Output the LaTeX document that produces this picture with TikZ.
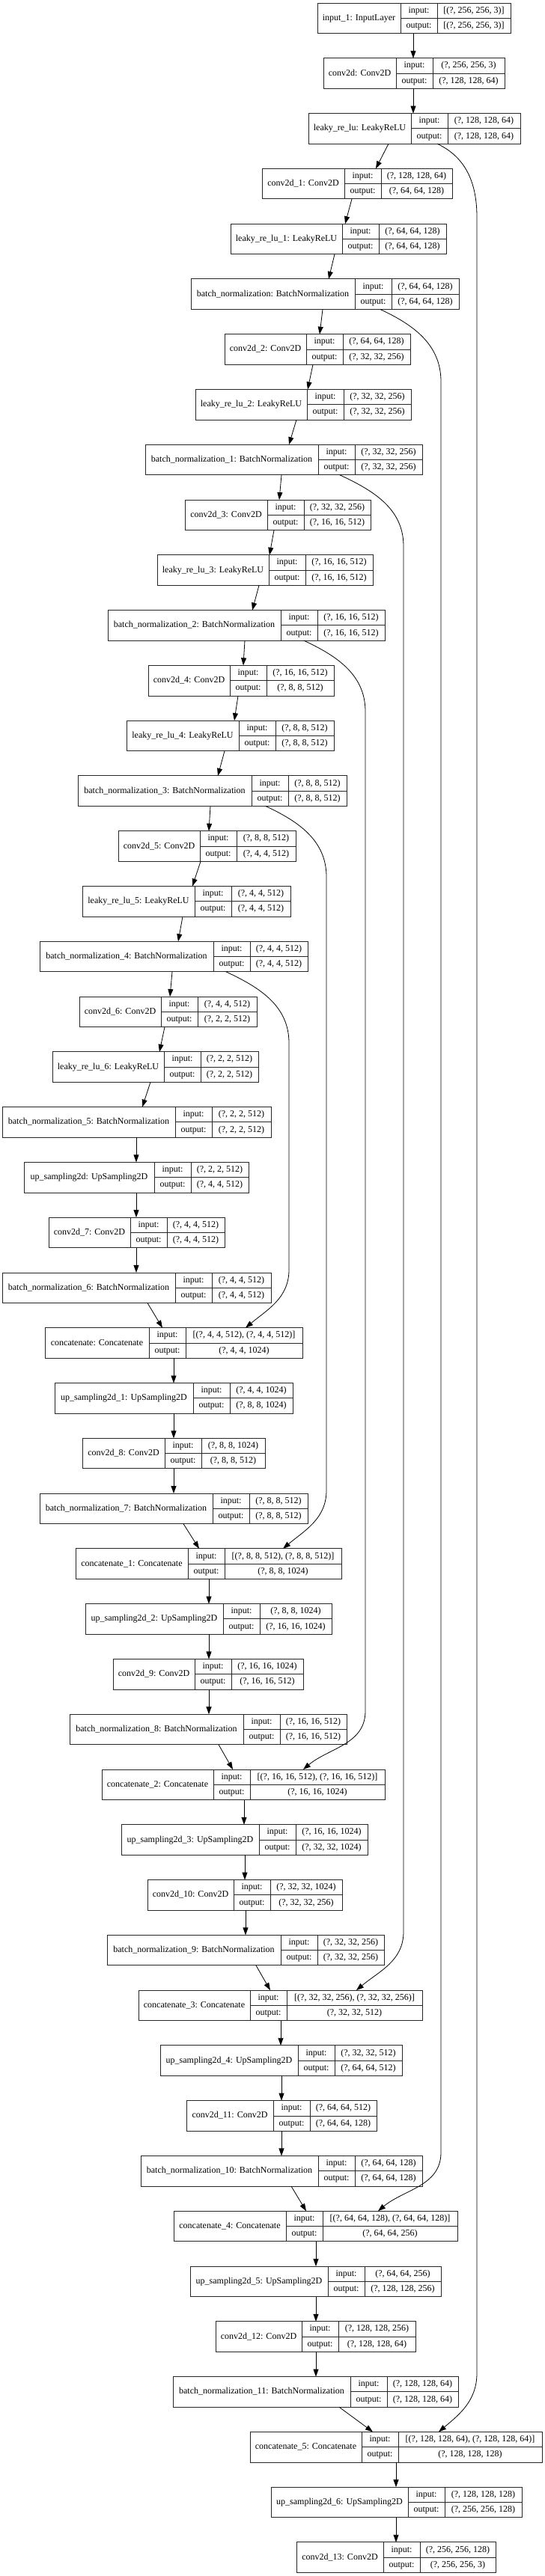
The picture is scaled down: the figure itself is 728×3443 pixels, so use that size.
\documentclass[tikz,border=0pt]{standalone}
\usepackage{fontspec}
\setmainfont{Liberation Serif}
\usetikzlibrary{arrows.meta}
\tikzset{
  lbox/.style={draw=black!85, line width=0.9pt, inner sep=0pt, outer sep=0pt, anchor=north west, minimum height=40.6pt},
  sepline/.style={draw=black!85, line width=0.9pt},
  txt/.style={font=\fontsize{12}{14}\selectfont, inner sep=0pt, text height=8.5pt, text depth=2.5pt},
  arr/.style={line width=0.8pt, -{Triangle[length=10pt,width=7pt]}},
}
% #1 node name, #2 row index, #3 left x, #4 first divider x, #5 right x, #6 label, #7 input, #8 output
\newcommand\klayer[8]{%
  \pgfmathsetmacro\kyt{-(4+73.78*#2)}%
  \pgfmathsetmacro\kyb{\kyt-40.6}%
  \pgfmathsetmacro\kym{\kyt-20.3}%
  \pgfmathsetmacro\kyi{\kyt-10.15}%
  \pgfmathsetmacro\kyo{\kyt-30.45}%
  \pgfmathsetmacro\kw{#5-#3}%
  \pgfmathsetmacro\kdd{#4+49}%
  \pgfmathsetmacro\kxa{(#3+#4)/2}%
  \pgfmathsetmacro\kxb{#4+24.5}%
  \pgfmathsetmacro\kxc{(\kdd+#5)/2}%
  \node[lbox, minimum width=\kw pt] (#1) at (#3,\kyt) {};
  \draw[sepline] (#4,\kyt) -- (#4,\kyb) (\kdd,\kyt) -- (\kdd,\kyb) (#4,\kym) -- (#5,\kym);
  \node[txt] (#1-name) at (\kxa,\kym) {#6};
  \node[txt] (#1-il) at (\kxb,\kyi) {input:};
  \node[txt] (#1-ol) at (\kxb,\kyo) {output:};
  \node[txt] (#1-iv) at (\kxc,\kyi) {#7};
  \node[txt] (#1-ov) at (\kxc,\kyo) {#8};
}
\begin{document}
\begin{tikzpicture}[x=1pt,y=1pt]
\useasboundingbox[fill=white] (0,0) rectangle (728,-3443);

\klayer{L0}{0}{424}{535}{682}{input\_1: InputLayer}{[(?, 256, 256, 3)]}{[(?, 256, 256, 3)]}
\klayer{L1}{1}{432}{529}{674}{conv2d: Conv2D}{(?, 256, 256, 3)}{(?, 128, 128, 64)}
\klayer{L2}{2}{412}{549}{695}{leaky\_re\_lu: LeakyReLU}{(?, 128, 128, 64)}{(?, 128, 128, 64)}
\klayer{L3}{3}{350}{460}{604}{conv2d\_1: Conv2D}{(?, 128, 128, 64)}{(?, 64, 64, 128)}
\klayer{L4}{4}{308}{457}{596}{leaky\_re\_lu\_1: LeakyReLU}{(?, 64, 64, 128)}{(?, 64, 64, 128)}
\klayer{L5}{5}{255}{474}{613}{batch\_normalization: BatchNormalization}{(?, 64, 64, 128)}{(?, 64, 64, 128)}
\klayer{L6}{6}{300}{409}{548}{conv2d\_2: Conv2D}{(?, 64, 64, 128)}{(?, 32, 32, 256)}
\klayer{L7}{7}{261}{410}{549}{leaky\_re\_lu\_2: LeakyReLU}{(?, 32, 32, 256)}{(?, 32, 32, 256)}
\klayer{L8}{8}{194}{425}{564}{batch\_normalization\_1: BatchNormalization}{(?, 32, 32, 256)}{(?, 32, 32, 256)}
\klayer{L9}{9}{247}{357}{495}{conv2d\_3: Conv2D}{(?, 32, 32, 256)}{(?, 16, 16, 512)}
\klayer{L10}{10}{210}{359}{498}{leaky\_re\_lu\_3: LeakyReLU}{(?, 16, 16, 512)}{(?, 16, 16, 512)}
\klayer{L11}{11}{144}{375}{514}{batch\_normalization\_2: BatchNormalization}{(?, 16, 16, 512)}{(?, 16, 16, 512)}
\klayer{L12}{12}{198}{307}{446}{conv2d\_4: Conv2D}{(?, 16, 16, 512)}{(?, 8, 8, 512)}
\klayer{L13}{13}{169}{319}{446}{leaky\_re\_lu\_4: LeakyReLU}{(?, 8, 8, 512)}{(?, 8, 8, 512)}
\klayer{L14}{14}{104}{336}{463}{batch\_normalization\_3: BatchNormalization}{(?, 8, 8, 512)}{(?, 8, 8, 512)}
\klayer{L15}{15}{158}{267}{395}{conv2d\_5: Conv2D}{(?, 8, 8, 512)}{(?, 4, 4, 512)}
\klayer{L16}{16}{110}{260}{388}{leaky\_re\_lu\_5: LeakyReLU}{(?, 4, 4, 512)}{(?, 4, 4, 512)}
\klayer{L17}{17}{53}{285}{411}{batch\_normalization\_4: BatchNormalization}{(?, 4, 4, 512)}{(?, 4, 4, 512)}
\klayer{L18}{18}{106}{215}{343}{conv2d\_6: Conv2D}{(?, 4, 4, 512)}{(?, 2, 2, 512)}
\klayer{L19}{19}{70}{219}{345}{leaky\_re\_lu\_6: LeakyReLU}{(?, 2, 2, 512)}{(?, 2, 2, 512)}
\klayer{L20}{20}{3}{234}{362}{batch\_normalization\_5: BatchNormalization}{(?, 2, 2, 512)}{(?, 2, 2, 512)}
\klayer{L21}{21}{32}{206}{332}{up\_sampling2d: UpSampling2D}{(?, 2, 2, 512)}{(?, 4, 4, 512)}
\klayer{L22}{22}{65}{174}{300}{conv2d\_7: Conv2D}{(?, 4, 4, 512)}{(?, 4, 4, 512)}
\klayer{L23}{23}{3}{234}{362}{batch\_normalization\_6: BatchNormalization}{(?, 4, 4, 512)}{(?, 4, 4, 512)}
\klayer{L24}{24}{60}{199}{404}{concatenate: Concatenate}{[(?, 4, 4, 512), (?, 4, 4, 512)]}{(?, 4, 4, 1024)}
\klayer{L25}{25}{73}{258}{391}{up\_sampling2d\_1: UpSampling2D}{(?, 4, 4, 1024)}{(?, 8, 8, 1024)}
\klayer{L26}{26}{110}{220}{354}{conv2d\_8: Conv2D}{(?, 8, 8, 1024)}{(?, 8, 8, 512)}
\klayer{L27}{27}{53}{284}{411}{batch\_normalization\_7: BatchNormalization}{(?, 8, 8, 512)}{(?, 8, 8, 512)}
\klayer{L28}{28}{101}{251}{456}{concatenate\_1: Concatenate}{[(?, 8, 8, 512), (?, 8, 8, 512)]}{(?, 8, 8, 1024)}
\klayer{L29}{29}{114}{298}{443}{up\_sampling2d\_2: UpSampling2D}{(?, 8, 8, 1024)}{(?, 16, 16, 1024)}
\klayer{L30}{30}{151}{260}{405}{conv2d\_9: Conv2D}{(?, 16, 16, 1024)}{(?, 16, 16, 512)}
\klayer{L31}{31}{93}{325}{463}{batch\_normalization\_8: BatchNormalization}{(?, 16, 16, 512)}{(?, 16, 16, 512)}
\klayer{L32}{32}{136}{285}{514}{concatenate\_2: Concatenate}{[(?, 16, 16, 512), (?, 16, 16, 512)]}{(?, 16, 16, 1024)}
\klayer{L33}{33}{162}{346}{491}{up\_sampling2d\_3: UpSampling2D}{(?, 16, 16, 1024)}{(?, 32, 32, 1024)}
\klayer{L34}{34}{197}{312}{457}{conv2d\_10: Conv2D}{(?, 32, 32, 1024)}{(?, 32, 32, 256)}
\klayer{L35}{35}{143}{375}{513}{batch\_normalization\_9: BatchNormalization}{(?, 32, 32, 256)}{(?, 32, 32, 256)}
\klayer{L36}{36}{185}{334}{564}{concatenate\_3: Concatenate}{[(?, 32, 32, 256), (?, 32, 32, 256)]}{(?, 32, 32, 512)}
\klayer{L37}{37}{214}{398}{537}{up\_sampling2d\_4: UpSampling2D}{(?, 32, 32, 512)}{(?, 64, 64, 512)}
\klayer{L38}{38}{249}{365}{503}{conv2d\_11: Conv2D}{(?, 64, 64, 512)}{(?, 64, 64, 128)}
\klayer{L39}{39}{188}{425}{564}{batch\_normalization\_10: BatchNormalization}{(?, 64, 64, 128)}{(?, 64, 64, 128)}
\klayer{L40}{40}{232}{382}{611}{concatenate\_4: Concatenate}{[(?, 64, 64, 128), (?, 64, 64, 128)]}{(?, 64, 64, 256)}
\klayer{L41}{41}{254}{438}{589}{up\_sampling2d\_5: UpSampling2D}{(?, 64, 64, 256)}{(?, 128, 128, 256)}
\klayer{L42}{42}{288}{403}{555}{conv2d\_12: Conv2D}{(?, 128, 128, 256)}{(?, 128, 128, 64)}
\klayer{L43}{43}{231}{468}{612}{batch\_normalization\_11: BatchNormalization}{(?, 128, 128, 64)}{(?, 128, 128, 64)}
\klayer{L44}{44}{334}{483}{724}{concatenate\_5: Concatenate}{[(?, 128, 128, 64), (?, 128, 128, 64)]}{(?, 128, 128, 128)}
\klayer{L45}{45}{362}{545}{697}{up\_sampling2d\_6: UpSampling2D}{(?, 128, 128, 128)}{(?, 256, 256, 128)}
\klayer{L46}{46}{396}{512}{662}{conv2d\_13: Conv2D}{(?, 256, 256, 128)}{(?, 256, 256, 3)}

% main chain
\draw[arr] (L0.south -| 552,0) -- (L1.north -| 552,0);
\draw[arr] (L1.south -| 552,0) -- (L2.north -| 552,0);
\draw[arr] (L2.south -| 519,0) -- (L3.north -| 502,0);
\draw[arr] (L3.south -| 470,0) -- (L4.north -| 461,0);
\draw[arr] (L4.south -| 447,0) -- (L5.north -| 439,0);
\draw[arr] (L5.south -| 431,0) -- (L6.north -| 427,0);
\draw[arr] (L6.south -| 418,0) -- (L7.north -| 411,0);
\draw[arr] (L7.south -| 396,0) -- (L8.north -| 386,0);
\draw[arr] (L8.south -| 376,0) -- (L9.north -| 373,0);
\draw[arr] (L9.south -| 366,0) -- (L10.north -| 360,0);
\draw[arr] (L10.south -| 346,0) -- (L11.north -| 337,0);
\draw[arr] (L11.south -| 327,0) -- (L12.north -| 325,0);
\draw[arr] (L12.south -| 318,0) -- (L13.north -| 313,0);
\draw[arr] (L13.south -| 300,0) -- (L14.north -| 291,0);
\draw[arr] (L14.south -| 281,0) -- (L15.north -| 279,0);
\draw[arr] (L15.south -| 268,0) -- (L16.north -| 257,0);
\draw[arr] (L16.south -| 244,0) -- (L17.north -| 238,0);
\draw[arr] (L17.south -| 230,0) -- (L18.north -| 227,0);
\draw[arr] (L18.south -| 220,0) -- (L19.north -| 213,0);
\draw[arr] (L19.south -| 201,0) -- (L20.north -| 190,0);
\draw[arr] (L20.south -| 182,0) -- (L21.north -| 182,0);
\draw[arr] (L21.south -| 182,0) -- (L22.north -| 182,0);
\draw[arr] (L22.south -| 182,0) -- (L23.north -| 182,0);
\draw[arr] (L23.south -| 197,0) -- (L24.north -| 217,0);
\draw[arr] (L24.south -| 232,0) -- (L25.north -| 232,0);
\draw[arr] (L25.south -| 232,0) -- (L26.north -| 232,0);
\draw[arr] (L26.south -| 232,0) -- (L27.north -| 232,0);
\draw[arr] (L27.south -| 245,0) -- (L28.north -| 266,0);
\draw[arr] (L28.south -| 279,0) -- (L29.north -| 279,0);
\draw[arr] (L29.south -| 279,0) -- (L30.north -| 279,0);
\draw[arr] (L30.south -| 279,0) -- (L31.north -| 279,0);
\draw[arr] (L31.south -| 292,0) -- (L32.north -| 311,0);
\draw[arr] (L32.south -| 326,0) -- (L33.north -| 326,0);
\draw[arr] (L33.south -| 327,0) -- (L34.north -| 327,0);
\draw[arr] (L34.south -| 328,0) -- (L35.north -| 328,0);
\draw[arr] (L35.south -| 342,0) -- (L36.north -| 361,0);
\draw[arr] (L36.south -| 375,0) -- (L37.north -| 375,0);
\draw[arr] (L37.south -| 376,0) -- (L38.north -| 376,0);
\draw[arr] (L38.south -| 376,0) -- (L39.north -| 376,0);
\draw[arr] (L39.south -| 389,0) -- (L40.north -| 409,0);
\draw[arr] (L40.south -| 422,0) -- (L41.north -| 422,0);
\draw[arr] (L41.south -| 422,0) -- (L42.north -| 422,0);
\draw[arr] (L42.south -| 422,0) -- (L43.north -| 422,0);
\draw[arr] (L43.south -| 453,0) -- (L44.north -| 498,0);
\draw[arr] (L44.south -| 529,0) -- (L45.north -| 529,0);
\draw[arr] (L45.south -| 529,0) -- (L46.north -| 529,0);

% skip connections
\draw[arr] (L2.south -| 584,0) to[out=-25,in=90] (637,-290) -- (637,-3172) to[out=-90,in=40] (L44.north -| 586,0);
\draw[arr] (L5.south -| 508,0) to[out=-25,in=90] (589,-510) -- (589,-2877) to[out=-90,in=40] (L40.north -| 505,0);
\draw[arr] (L8.south -| 454,0) to[out=-25,in=90] (539,-730) -- (539,-2582) to[out=-90,in=40] (L36.north -| 476,0);
\draw[arr] (L11.south -| 406,0) to[out=-25,in=90] (488,-951) -- (488,-2287) to[out=-90,in=40] (L32.north -| 405,0);
\draw[arr] (L14.south -| 355,0) to[out=-25,in=90] (436,-1172) -- (436,-1992) to[out=-90,in=40] (L28.north -| 378,0);
\draw[arr] (L17.south -| 302,0) to[out=-25,in=90] (386,-1394) -- (386,-1697) to[out=-90,in=40] (L24.north -| 328,0);
\end{tikzpicture}
\end{document}
